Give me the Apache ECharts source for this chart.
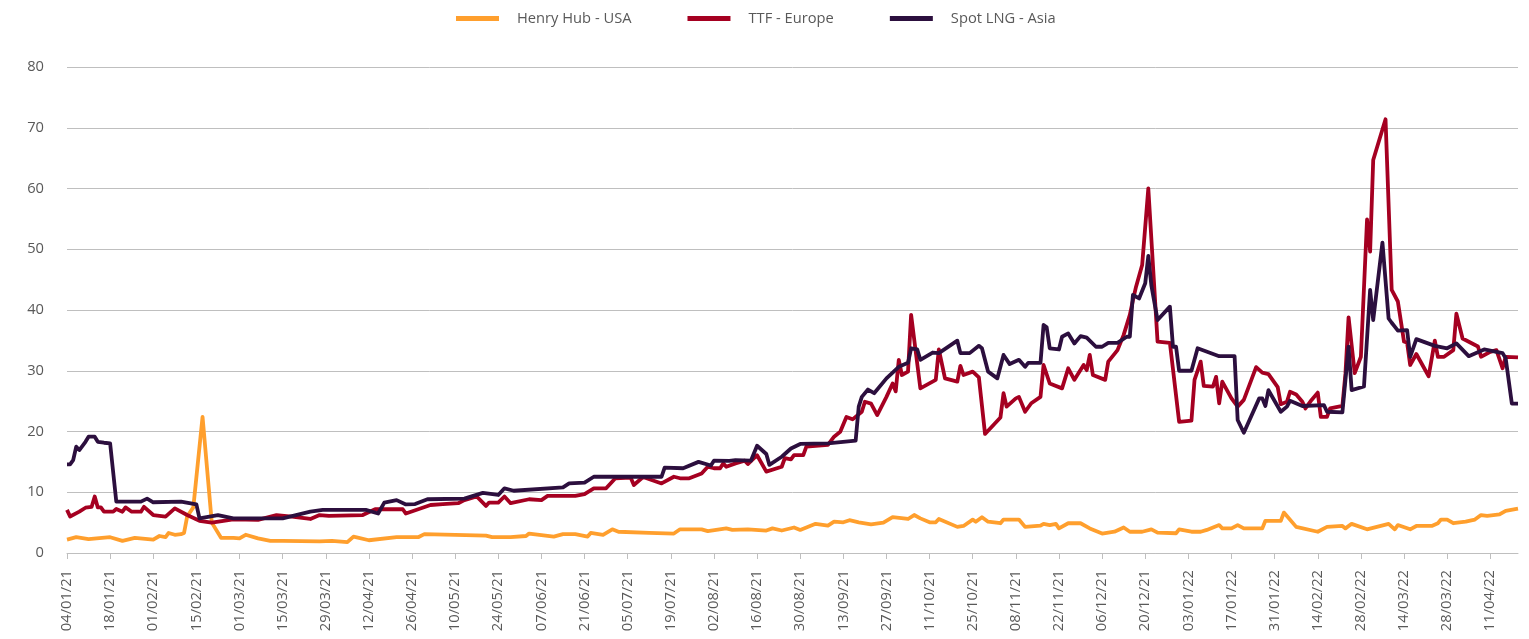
<!DOCTYPE html>
<html><head><meta charset="utf-8">
<script src="https://cdn.jsdelivr.net/npm/echarts@6/dist/echarts.min.js"></script>
<style>html,body{margin:0;padding:0;background:#fff}#c{width:1529px;height:639px}</style>
</head><body><div id="c"></div>
<script>
const seriesNames = ['Henry Hub - USA', 'TTF - Europe', 'Spot LNG - Asia'];
const axisStart = '04/01/21';
const axisEnd = '20/04/22';
const tickStepDays = 14;
const yMin = 0, yMax = 80, yStep = 10;

const henryHub = [['04/01/21',2.2],['07/01/21',2.6],['11/01/21',2.3],['18/01/21',2.6],['22/01/21',2.0],['26/01/21',2.5],['01/02/21',2.2],['03/02/21',2.8],['05/02/21',2.6],['06/02/21',3.3],['08/02/21',3.0],['10/02/21',3.1],['11/02/21',3.3],['12/02/21',6.0],['14/02/21',7.5],['17/02/21',22.4],['20/02/21',5.0],['23/02/21',2.5],['27/02/21',2.5],['01/03/21',2.4],['03/03/21',3.0],['07/03/21',2.4],['11/03/21',2.0],['15/03/21',2.0],['27/03/21',1.9],['31/03/21',2.0],['05/04/21',1.8],['07/04/21',2.7],['12/04/21',2.1],['21/04/21',2.6],['28/04/21',2.6],['30/04/21',3.1],['20/05/21',2.85],['22/05/21',2.6],['28/05/21',2.6],['02/06/21',2.8],['03/06/21',3.2],['11/06/21',2.7],['14/06/21',3.1],['18/06/21',3.1],['22/06/21',2.7],['23/06/21',3.3],['27/06/21',3.0],['30/06/21',3.9],['02/07/21',3.5],['12/07/21',3.3],['20/07/21',3.2],['22/07/21',3.9],['29/07/21',3.9],['31/07/21',3.6],['06/08/21',4.05],['08/08/21',3.8],['13/08/21',3.9],['19/08/21',3.7],['21/08/21',4.05],['24/08/21',3.7],['28/08/21',4.2],['30/08/21',3.8],['04/09/21',4.8],['08/09/21',4.5],['10/09/21',5.15],['13/09/21',5.05],['15/09/21',5.4],['18/09/21',5.05],['22/09/21',4.7],['26/09/21',5.0],['29/09/21',5.9],['04/10/21',5.6],['06/10/21',6.25],['08/10/21',5.7],['11/10/21',5.05],['13/10/21',5.05],['14/10/21',5.6],['20/10/21',4.3],['22/10/21',4.45],['25/10/21',5.5],['26/10/21',5.15],['28/10/21',5.9],['30/10/21',5.15],['03/11/21',4.9],['04/11/21',5.5],['09/11/21',5.5],['11/11/21',4.3],['16/11/21',4.5],['17/11/21',4.8],['19/11/21',4.6],['21/11/21',4.8],['22/11/21',4.05],['25/11/21',4.9],['29/11/21',4.9],['02/12/21',4.05],['06/12/21',3.2],['10/12/21',3.5],['13/12/21',4.2],['15/12/21',3.5],['19/12/21',3.5],['22/12/21',3.9],['24/12/21',3.35],['30/12/21',3.25],['31/12/21',3.9],['04/01/22',3.5],['07/01/22',3.5],['09/01/22',3.8],['13/01/22',4.6],['14/01/22',4.05],['17/01/22',4.05],['19/01/22',4.6],['21/01/22',4.05],['27/01/22',4.05],['28/01/22',5.3],['02/02/22',5.3],['03/02/22',6.65],['07/02/22',4.3],['14/02/22',3.5],['17/02/22',4.3],['22/02/22',4.45],['23/02/22',4.05],['25/02/22',4.8],['02/03/22',3.9],['09/03/22',4.8],['11/03/22',3.9],['12/03/22',4.6],['16/03/22',3.9],['18/03/22',4.45],['23/03/22',4.45],['25/03/22',4.9],['26/03/22',5.5],['28/03/22',5.5],['30/03/22',4.9],['03/04/22',5.15],['06/04/22',5.5],['08/04/22',6.25],['10/04/22',6.1],['14/04/22',6.35],['16/04/22',6.95],['20/04/22',7.3]];

const ttfEurope = [['04/01/21',7.1],['05/01/21',6.0],['08/01/21',6.8],['10/01/21',7.45],['12/01/21',7.6],['13/01/21',9.3],['14/01/21',7.5],['15/01/21',7.5],['16/01/21',6.8],['19/01/21',6.8],['20/01/21',7.25],['22/01/21',6.8],['23/01/21',7.5],['25/01/21',6.8],['28/01/21',6.8],['29/01/21',7.6],['01/02/21',6.25],['05/02/21',6.0],['08/02/21',7.35],['12/02/21',6.25],['16/02/21',5.3],['20/02/21',5.0],['27/02/21',5.55],['07/03/21',5.45],['13/03/21',6.25],['18/03/21',6.0],['24/03/21',5.6],['27/03/21',6.25],['30/03/21',6.1],['10/04/21',6.25],['14/04/21',7.2],['23/04/21',7.2],['24/04/21',6.5],['28/04/21',7.2],['02/05/21',7.9],['06/05/21',8.05],['11/05/21',8.2],['13/05/21',8.7],['17/05/21',9.3],['20/05/21',7.75],['21/05/21',8.3],['24/05/21',8.3],['26/05/21',9.3],['28/05/21',8.2],['03/06/21',8.85],['07/06/21',8.7],['09/06/21',9.4],['18/06/21',9.4],['21/06/21',9.7],['24/06/21',10.65],['28/06/21',10.65],['01/07/21',12.3],['06/07/21',12.4],['07/07/21',11.2],['10/07/21',12.5],['16/07/21',11.45],['20/07/21',12.55],['22/07/21',12.3],['25/07/21',12.3],['29/07/21',13.1],['31/07/21',14.2],['02/08/21',13.95],['04/08/21',13.95],['05/08/21',14.75],['06/08/21',14.2],['09/08/21',14.75],['12/08/21',15.2],['13/08/21',14.65],['16/08/21',16.1],['19/08/21',13.4],['24/08/21',14.2],['25/08/21',15.6],['27/08/21',15.4],['28/08/21',16.1],['31/08/21',16.1],['01/09/21',17.5],['08/09/21',17.8],['10/09/21',19.15],['12/09/21',19.95],['14/09/21',22.4],['16/09/21',22.0],['19/09/21',23.25],['20/09/21',24.9],['22/09/21',24.6],['24/09/21',22.7],['27/09/21',25.7],['29/09/21',27.9],['30/09/21',26.6],['01/10/21',31.8],['02/10/21',29.3],['04/10/21',29.85],['05/10/21',39.2],['08/10/21',27.1],['13/10/21',28.5],['14/10/21',33.5],['16/10/21',28.75],['20/10/21',28.2],['21/10/21',30.8],['22/10/21',29.3],['25/10/21',29.85],['27/10/21',28.9],['29/10/21',19.6],['03/11/21',22.3],['04/11/21',26.3],['05/11/21',24.1],['08/11/21',25.45],['09/11/21',25.7],['11/11/21',23.25],['13/11/21',24.65],['16/11/21',25.7],['17/11/21',30.95],['19/11/21',27.9],['23/11/21',27.1],['25/11/21',30.4],['27/11/21',28.5],['30/11/21',30.95],['01/12/21',30.1],['02/12/21',32.6],['03/12/21',29.3],['07/12/21',28.5],['08/12/21',31.5],['11/12/21',33.4],['13/12/21',35.9],['15/12/21',39.2],['16/12/21',41.6],['17/12/21',43.8],['19/12/21',47.4],['21/12/21',60.0],['24/12/21',34.8],['28/12/21',34.6],['31/12/21',21.6],['04/01/22',21.8],['05/01/22',28.5],['07/01/22',31.5],['08/01/22',27.5],['11/01/22',27.4],['12/01/22',29.0],['13/01/22',24.65],['14/01/22',28.2],['17/01/22',25.45],['19/01/22',24.1],['21/01/22',25.2],['25/01/22',30.6],['27/01/22',29.7],['29/01/22',29.45],['01/02/22',27.3],['02/02/22',24.5],['04/02/22',24.9],['05/02/22',26.55],['07/02/22',26.1],['09/02/22',24.9],['10/02/22',23.8],['12/02/22',25.2],['14/02/22',26.4],['15/02/22',22.4],['17/02/22',22.4],['18/02/22',23.8],['22/02/22',24.2],['23/02/22',29.6],['24/02/22',38.8],['26/02/22',29.6],['28/02/22',32.3],['02/03/22',54.9],['03/03/22',49.6],['04/03/22',64.7],['08/03/22',71.4],['10/03/22',43.3],['12/03/22',41.4],['14/03/22',34.8],['15/03/22',34.6],['16/03/22',30.95],['18/03/22',32.75],['22/03/22',29.1],['24/03/22',34.95],['25/03/22',32.3],['27/03/22',32.3],['30/03/22',33.4],['31/03/22',39.4],['02/04/22',35.3],['07/04/22',34.0],['08/04/22',32.3],['11/04/22',33.1],['13/04/22',33.4],['15/04/22',30.4],['16/04/22',32.3],['20/04/22',32.2]];

const spotLngAsia = [['04/01/21',14.6],['05/01/21',14.6],['06/01/21',15.3],['07/01/21',17.5],['08/01/21',16.95],['10/01/21',18.3],['11/01/21',19.15],['13/01/21',19.15],['14/01/21',18.3],['16/01/21',18.15],['18/01/21',18.05],['20/01/21',8.45],['28/01/21',8.45],['30/01/21',8.95],['01/02/21',8.35],['10/02/21',8.45],['15/02/21',8.0],['16/02/21',5.7],['22/02/21',6.25],['27/02/21',5.7],['15/03/21',5.7],['24/03/21',6.8],['28/03/21',7.1],['11/04/21',7.1],['15/04/21',6.5],['17/04/21',8.3],['21/04/21',8.7],['24/04/21',8.0],['27/04/21',8.05],['01/05/21',8.85],['13/05/21',8.95],['19/05/21',9.9],['24/05/21',9.55],['26/05/21',10.65],['29/05/21',10.25],['14/06/21',10.8],['16/06/21',11.45],['21/06/21',11.6],['24/06/21',12.55],['16/07/21',12.55],['17/07/21',14.05],['23/07/21',13.95],['28/07/21',15.0],['01/08/21',14.4],['02/08/21',15.2],['07/08/21',15.15],['09/08/21',15.3],['14/08/21',15.2],['16/08/21',17.65],['19/08/21',16.3],['20/08/21',14.5],['24/08/21',15.85],['27/08/21',17.2],['30/08/21',17.95],['08/09/21',18.05],['17/09/21',18.5],['18/09/21',24.1],['19/09/21',25.7],['21/09/21',26.9],['23/09/21',26.3],['27/09/21',28.75],['01/10/21',30.65],['04/10/21',31.3],['05/10/21',33.7],['07/10/21',33.5],['08/10/21',31.8],['12/10/21',33.0],['14/10/21',32.9],['20/10/21',34.95],['21/10/21',32.9],['24/10/21',32.9],['27/10/21',34.1],['28/10/21',33.7],['30/10/21',29.85],['02/11/21',28.75],['04/11/21',32.6],['06/11/21',31.1],['09/11/21',31.8],['11/11/21',30.65],['12/11/21',31.3],['16/11/21',31.3],['17/11/21',37.55],['18/11/21',37.15],['19/11/21',33.7],['22/11/21',33.5],['23/11/21',35.6],['25/11/21',36.15],['27/11/21',34.5],['29/11/21',35.7],['01/12/21',35.45],['04/12/21',33.95],['06/12/21',33.95],['08/12/21',34.6],['11/12/21',34.6],['14/12/21',35.6],['15/12/21',35.6],['16/12/21',42.5],['18/12/21',41.9],['20/12/21',44.4],['21/12/21',48.9],['22/12/21',44.0],['24/12/21',38.35],['28/12/21',40.55],['29/12/21',33.95],['30/12/21',33.95],['31/12/21',30.0],['04/01/22',30.0],['06/01/22',33.7],['13/01/22',32.4],['18/01/22',32.4],['19/01/22',21.9],['21/01/22',19.8],['26/01/22',25.45],['27/01/22',25.45],['28/01/22',24.2],['29/01/22',26.8],['02/02/22',23.25],['04/02/22',24.1],['05/02/22',25.05],['09/02/22',24.2],['16/02/22',24.35],['17/02/22',23.25],['22/02/22',23.15],['24/02/22',33.95],['25/02/22',26.8],['01/03/22',27.4],['03/03/22',43.3],['04/03/22',38.35],['07/03/22',51.1],['09/03/22',38.6],['10/03/22',37.9],['11/03/22',37.25],['12/03/22',36.6],['15/03/22',36.7],['16/03/22',32.3],['18/03/22',35.2],['24/03/22',34.1],['28/03/22',33.7],['31/03/22',34.5],['04/04/22',32.4],['09/04/22',33.5],['15/04/22',32.9],['16/04/22',32.05],['18/04/22',24.6],['20/04/22',24.6]];

const colors = ['#FF9F2D', '#A50021', '#2C0F3E'];
const DAY = 86400000;
function parseDate(s) { const p = s.split('/'); return Date.UTC(2000 + +p[2], +p[1] - 1, +p[0]); }
const base = parseDate(axisStart);
function toDay(s) { return Math.round((parseDate(s) - base) / DAY); }
function fmt(v) {
  if (v % tickStepDays !== 0) return '';
  const d = new Date(base + v * DAY);
  const pad = n => String(n).padStart(2, '0');
  return pad(d.getUTCDate()) + '/' + pad(d.getUTCMonth() + 1) + '/' + pad(d.getUTCFullYear() % 100);
}
const allSeries = [henryHub, ttfEurope, spotLngAsia];
const font = 'Open Sans';
const chart = echarts.init(document.getElementById('c'), null, { renderer: 'canvas' });
chart.setOption({
  animation: false,
  backgroundColor: '#ffffff',
  color: colors,
  legend: {
    data: seriesNames, top: 6, left: 451, icon: 'rect', itemWidth: 43, itemHeight: 5, itemGap: 56,
    textStyle: { fontFamily: font, fontSize: 14.7, color: '#595959', padding: [0, 0, 0, 13] }
  },
  grid: { left: 67, right: 11, top: 67, bottom: 86, containLabel: false },
  xAxis: {
    type: 'value', min: 0, max: toDay(axisEnd), interval: tickStepDays,
    axisLine: { show: true, lineStyle: { color: '#bfbfbf', width: 1 } },
    axisTick: { show: true, length: 6, lineStyle: { color: '#bfbfbf' } },
    splitLine: { show: false },
    axisLabel: { rotate: 90, margin: 17, fontFamily: font, fontSize: 14.7, color: '#595959', showMaxLabel: false, formatter: fmt }
  },
  yAxis: {
    type: 'value', min: yMin, max: yMax, interval: yStep,
    axisLine: { show: false }, axisTick: { show: false },
    splitLine: { lineStyle: { color: '#bfbfbf', width: 1 } },
    axisLabel: { margin: 23, fontFamily: font, fontSize: 14.7, color: '#595959' }
  },
  series: allSeries.map((s, i) => ({
    name: seriesNames[i], type: 'line', showSymbol: false, symbol: 'none',
    lineStyle: { width: 3.8, color: colors[i], join: 'round' },
    itemStyle: { color: colors[i] },
    data: s.map(p => [toDay(p[0]), p[1]])
  }))
});
</script></body></html>
